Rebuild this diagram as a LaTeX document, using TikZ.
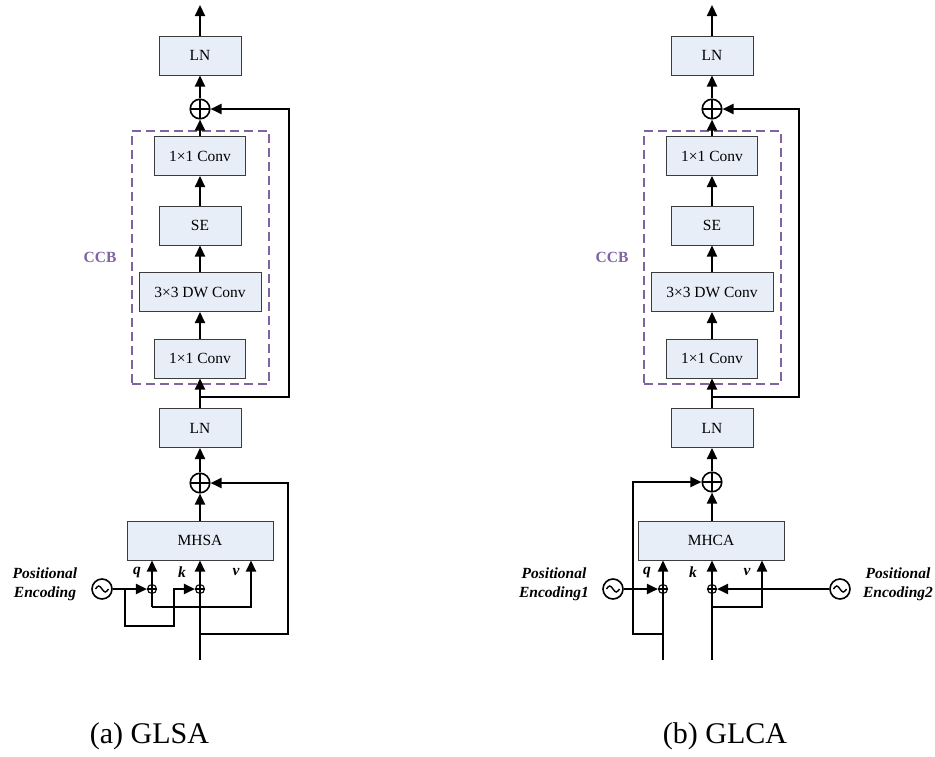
\documentclass[tikz,border=0pt]{standalone}
\usepackage{fontspec}
\setmainfont{Liberation Serif}
\usetikzlibrary{arrows.meta}

\definecolor{boxfill}{RGB}{232,238,248}
\definecolor{boxline}{RGB}{60,60,60}
\definecolor{ccbpurple}{RGB}{128,100,162}

\tikzset{
  blk/.style={draw=boxline, fill=boxfill, line width=1pt, minimum height=39pt,
    inner sep=0pt, font=\fontsize{15.5}{18}\selectfont},
  arr/.style={line width=2.2pt, line join=miter, -{Triangle[length=11pt,width=10pt]}},
  sum/.style={circle, draw, line width=1.6pt, minimum size=19.5pt, inner sep=0pt,
    path picture={\draw[line width=1.6pt]
      (path picture bounding box.north) -- (path picture bounding box.south)
      (path picture bounding box.west) -- (path picture bounding box.east);}},
  smallsum/.style={circle, draw, line width=1.1pt, minimum size=9pt, inner sep=0pt,
    path picture={\draw[line width=1.1pt]
      (path picture bounding box.north) -- (path picture bounding box.south)
      (path picture bounding box.west) -- (path picture bounding box.east);}},
  wave/.style={circle, draw, line width=1.6pt, minimum size=20pt, inner sep=0pt,
    path picture={\draw[line width=1.4pt]
      ([xshift=-6.5pt]path picture bounding box.center) sin ++(3.25pt,3pt)
      cos ++(3.25pt,-3pt) sin ++(3.25pt,-3pt) cos ++(3.25pt,3pt);}},
  ccbframe/.style={draw=ccbpurple, line width=1.6pt, dash pattern=on 9pt off 5pt},
  ccblabel/.style={text=ccbpurple, font=\fontsize{15.5}{18}\selectfont\bfseries},
  qkv/.style={font=\fontsize{15.5}{18}\selectfont\bfseries\itshape},
  pelabel/.style={align=center, font=\fontsize{15.5}{19}\selectfont\bfseries\itshape},
  caption/.style={font=\fontsize{30}{34}\selectfont, anchor=base}
}

\begin{document}
\begin{tikzpicture}[x=1pt, y=-1pt]
\useasboundingbox (0,0) rectangle (935,756);

% ===================== (a) GLSA =====================
\node[ccbframe, minimum width=137pt, minimum height=253pt] (ccba) at (200.5,257.5) {};
\node[ccblabel] (ccbla) at (100,257) {CCB};

\node[blk, minimum width=82pt] (ln1a) at (200,55.5) {LN};
\node[sum] (op1a) at (200,109) {};
\node[blk, minimum width=91pt] (c1a) at (200,156) {1×1 Conv};
\node[blk, minimum width=82pt] (sea) at (200,225.5) {SE};
\node[blk, minimum width=122pt] (dwa) at (200,292) {3×3 DW Conv};
\node[blk, minimum width=91pt] (c2a) at (200,358.5) {1×1 Conv};
\node[blk, minimum width=82pt] (ln2a) at (200,428) {LN};
\node[sum] (op2a) at (200,483) {};
\node[blk, minimum width=146pt] (mha) at (200,540.5) {MHSA};

\node[smallsum] (sqa) at (152,589) {};
\node[smallsum] (ska) at (200,589) {};
\node[wave] (pea) at (102,589) {};
\node[pelabel] (pela) at (45,584) {Positional\\Encoding};

\node[qkv] (qla) at (137,572) {q};
\node[qkv] (kla) at (182,572) {k};
\node[qkv] (vla) at (236,572) {v};

\coordinate (outa) at (200,5);
\coordinate (ja1) at (200,397);
\coordinate (ra1) at (289,109);
\coordinate (jb1) at (200,634);
\coordinate (rb1) at (288,483);
\coordinate (ina) at (200,660);
\coordinate (qa) at (152,607);
\coordinate (va) at (251,607);
\coordinate (ba1) at (125,589);
\coordinate (ba2) at (174,626);

% main path
\draw[arr] (ln1a) -- (outa);
\draw[arr] (op1a) -- (ln1a);
\draw[arr] (c1a) -- (op1a);
\draw[arr] (sea) -- (c1a);
\draw[arr] (dwa) -- (sea);
\draw[arr] (c2a) -- (dwa);
\draw[arr] (ln2a) -- (c2a);
\draw[arr] (op2a) -- (ln2a);
\draw[arr] (mha) -- (op2a);
\draw[arr] (ina) -- (mha.south);
% residual connections
\draw[arr] (ja1) -| (ra1) -- (op1a);
\draw[arr] (jb1) -| (rb1) -- (op2a);
% q, v branches
\draw[arr] (qa) -- (qa |- mha.south);
\draw[arr] (qa) -- (va) -- (va |- mha.south);
% positional encoding
\draw[arr] (pea) -- (sqa);
\draw[arr] (ba1) |- (ba2) -- (ba2 |- ska) -- (ska);

\node[caption] (capa) at (149.5,743) {(a) GLSA};

% ===================== (b) GLCA =====================
\node[ccbframe, minimum width=137pt, minimum height=253pt] (ccbb) at (712.5,257.5) {};
\node[ccblabel] (ccblb) at (612,257) {CCB};

\node[blk, minimum width=82pt] (ln1b) at (712,55.5) {LN};
\node[sum] (op1b) at (712,109) {};
\node[blk, minimum width=91pt] (c1b) at (712,156) {1×1 Conv};
\node[blk, minimum width=82pt] (seb) at (712,225.5) {SE};
\node[blk, minimum width=122pt] (dwb) at (712,292) {3×3 DW Conv};
\node[blk, minimum width=91pt] (c2b) at (712,358.5) {1×1 Conv};
\node[blk, minimum width=82pt] (ln2b) at (712,428) {LN};
\node[sum] (op2b) at (712,482) {};
\node[blk, minimum width=146pt] (mhb) at (711,540.5) {MHCA};

\node[smallsum] (sqb) at (663,589) {};
\node[smallsum] (skb) at (712,589) {};
\node[wave] (pe1b) at (613,589) {};
\node[wave] (pe2b) at (840,589) {};
\node[pelabel] (pel1b) at (554,584) {Positional\\Encoding1};
\node[pelabel] (pel2b) at (898,584) {Positional\\Encoding2};

\node[qkv] (qlb) at (647,572) {q};
\node[qkv] (klb) at (693,572) {k};
\node[qkv] (vlb) at (747,572) {v};

\coordinate (outb) at (712,5);
\coordinate (ja2) at (712,397);
\coordinate (ra2) at (799,109);
\coordinate (jb2) at (663,634);
\coordinate (rb2) at (633,482);
\coordinate (inqb) at (663,660);
\coordinate (inkb) at (712,660);
\coordinate (vb0) at (712,607);
\coordinate (vb) at (762,607);

% main path
\draw[arr] (ln1b) -- (outb);
\draw[arr] (op1b) -- (ln1b);
\draw[arr] (c1b) -- (op1b);
\draw[arr] (seb) -- (c1b);
\draw[arr] (dwb) -- (seb);
\draw[arr] (c2b) -- (dwb);
\draw[arr] (ln2b) -- (c2b);
\draw[arr] (op2b) -- (ln2b);
\draw[arr] (op2b |- mhb.north) -- (op2b);
% residual connections
\draw[arr] (ja2) -| (ra2) -- (op1b);
\draw[arr] (jb2) -| (rb2) -- (op2b);
% q, k, v inputs
\draw[arr] (inqb) -- (inqb |- mhb.south);
\draw[arr] (inkb) -- (inkb |- mhb.south);
\draw[arr] (vb0) -- (vb) -- (vb |- mhb.south);
% positional encodings
\draw[arr] (pe1b) -- (sqb);
\draw[arr] (pe2b) -- (skb);

\node[caption] (capb) at (725,743) {(b) GLCA};
\end{tikzpicture}
\end{document}
